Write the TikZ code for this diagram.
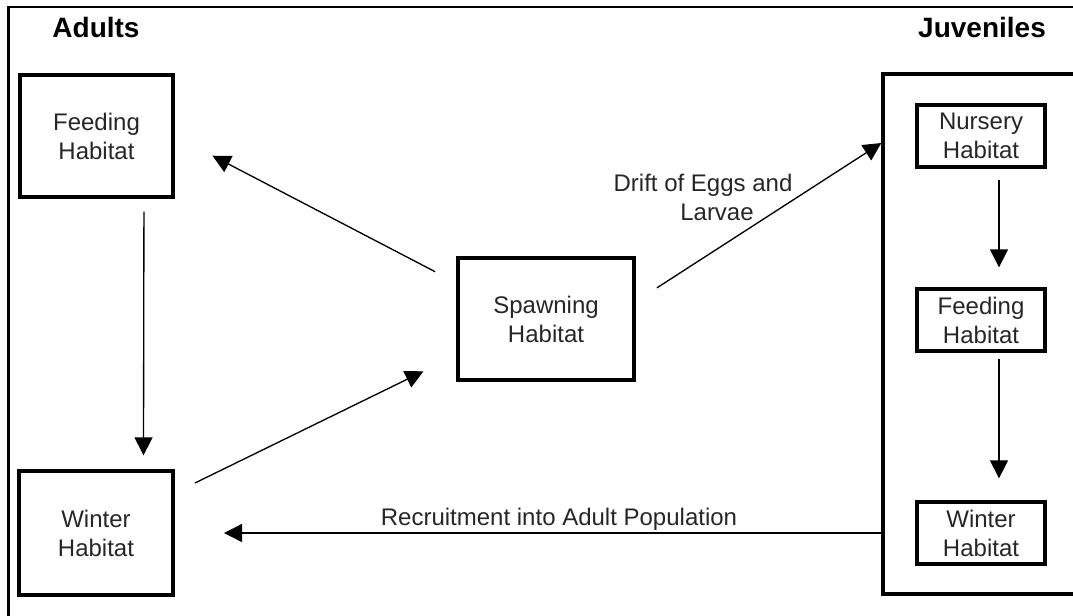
\documentclass[tikz,border=0pt]{standalone}
\usepackage{fontspec}
\setmainfont{Liberation Sans}
\usetikzlibrary{arrows.meta}

\begin{document}
\begin{tikzpicture}[x=0.75pt,y=-0.75pt,
  habitat/.style={draw,line width=2.5pt,align=center,text=black!85,
    font=\fontsize{18}{21.75}\selectfont},
  title/.style={font=\fontsize{21}{25}\selectfont\bfseries},
  lbl/.style={align=center,text=black!85,font=\fontsize{18}{21.75}\selectfont},
  flow/.style={line width=1pt,-{Triangle[length=13.5pt,width=13.5pt]}}]
\clip (0,0) rectangle (1073,615);
\draw[line width=1.6pt] (8.5,7) rectangle (1120,660);
\node[title] (adults) at (96,27) {Adults};
\node[title] (juveniles) at (982,27) {Juveniles};
% adult habitats
\node[habitat,minimum width=114.75pt,minimum height=91.5pt] (feedA) at (96.5,136) {Feeding\\Habitat};
\node[habitat,minimum width=115.5pt,minimum height=93pt] (winA) at (96,533) {Winter\\Habitat};
\node[habitat,minimum width=132pt,minimum height=91.5pt] (spawn) at (546,319) {Spawning\\Habitat};
% juvenile habitats
\node[draw,line width=2.5pt,minimum width=157.5pt,minimum height=390pt] (juv) at (988,334) {};
\node[habitat,minimum width=96pt,minimum height=46.5pt] (nurs) at (981,136) {Nursery\\Habitat};
\node[habitat,minimum width=96pt,minimum height=46.5pt] (feedJ) at (981,320) {Feeding\\Habitat};
\node[habitat,minimum width=96pt,minimum height=46.5pt] (winJ) at (981,533) {Winter\\Habitat};
\draw[flow,shorten <=9.75pt,shorten >=10.5pt] ([xshift=35.6pt]feedA.south) -- ([xshift=35.6pt]winA.north);
\draw[flow,shorten <=17pt,shorten >=27.5pt] (winA.27.5) -- (spawn.202);
\draw[flow,shorten <=18pt,shorten >=32pt] (spawn.158) -- (feedA.east);
\draw[flow,shorten <=19pt] (spawn.11.6) -- ([yshift=143.25pt]juv.west);
\draw[flow,shorten <=8.25pt,shorten >=15pt] ([xshift=13.5pt]nurs.south) -- ([xshift=13.5pt]feedJ.north);
\draw[flow,shorten <=4.5pt,shorten >=16.5pt] ([xshift=13.5pt]feedJ.south) -- ([xshift=13.5pt]winJ.north);
\draw[flow,shorten >=37pt] (winJ -| juv.west) -- (winA.east);
\node[lbl] (drift) at (703,197) {Drift of Eggs and\\\hspace*{21pt}Larvae};
\node[lbl] (recruit) at (559,519) {Recruitment into Adult Population};
\end{tikzpicture}
\end{document}
